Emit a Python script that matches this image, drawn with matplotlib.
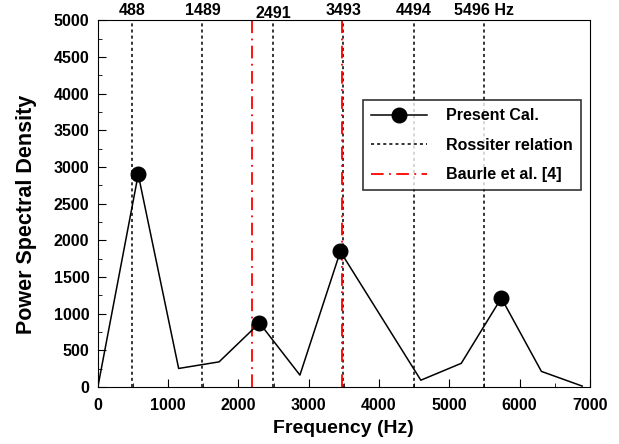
import numpy as np
import matplotlib.pyplot as plt

plt.rcParams['font.family'] = ['Liberation Sans', 'DejaVu Sans']
plt.rcParams['font.weight'] = 'bold'

freq = [0, 575, 1150, 1725, 2300, 2875, 3450, 4595, 5170, 5740, 6310, 6890]
psd = [0, 2900, 255, 345, 875, 165, 1850, 95, 325, 1215, 215, 15]
peak_freq = [575, 2300, 3450, 5740]
peak_psd = [2900, 875, 1850, 1215]
rossiter = [488, 1489, 2491, 3493, 4494, 5496]
rossiter_labels = ['488', '1489', '2491', '3493', '4494', '5496 Hz']
baurle = [2200, 3470]

fig = plt.figure(figsize=(6.19, 4.44), dpi=100)
ax = fig.add_axes([0.158, 0.128, 0.795, 0.826])

for i, f in enumerate(rossiter):
    ax.axvline(f, color='black', linestyle=(0, (2, 2)), linewidth=1.1,
               label='Rossiter relation' if i == 0 else None)
for i, f in enumerate(baurle):
    ax.axvline(f, color='red', linestyle=(0, (7, 3, 1, 3)), linewidth=1.3,
               label='Baurle et al. [4]' if i == 0 else None)

ax.plot(freq, psd, color='black', linewidth=1.1)
ax.plot(peak_freq, peak_psd, 'o', color='black', markersize=10.5)
ax.plot([], [], '-o', color='black', markersize=10.5, linewidth=1.1,
        label='Present Cal.')

for f, lab in zip(rossiter, rossiter_labels):
    dy = 0.998 if lab == '2491' else 1.007
    ax.text(f, 5000 * dy, lab, ha='center', va='bottom', fontsize=11.5,
            fontweight='bold')

ax.set_xlim(0, 7000)
ax.set_ylim(0, 5000)
ax.set_xticks(np.arange(0, 7001, 1000))
ax.set_xticks(np.arange(0, 7001, 500), minor=True)
ax.set_yticks(np.arange(0, 5001, 500))
ax.set_yticks(np.arange(0, 5001, 250), minor=True)
ax.tick_params(which='both', direction='in', top=False, right=False,
               labelsize=11.5)
ax.tick_params(which='major', length=6)
ax.tick_params(which='minor', length=3)
ax.tick_params(axis='x', pad=8)
ax.tick_params(axis='y', pad=6)
for lbl in ax.get_xticklabels() + ax.get_yticklabels():
    lbl.set_fontweight('bold')

ax.set_xlabel('Frequency (Hz)', fontsize=14, fontweight='bold')
ax.set_ylabel('Power Spectral Density', fontsize=15.5, fontweight='bold')
ax.xaxis.set_label_coords(0.5, -0.09)
ax.yaxis.set_label_coords(-0.123, 0.47)

handles, labels = ax.get_legend_handles_labels()
order = [labels.index('Present Cal.'), labels.index('Rossiter relation'),
         labels.index('Baurle et al. [4]')]
leg = ax.legend([handles[i] for i in order], [labels[i] for i in order],
                loc='upper left', bbox_to_anchor=(0.539, 0.782),
                frameon=True, fancybox=False, edgecolor='black',
                handlelength=3.5, fontsize=11.5, labelspacing=0.9,
                borderpad=0.5, handletextpad=1.2, borderaxespad=0)
leg.get_frame().set_linewidth(1.2)
for t in leg.get_texts():
    t.set_fontweight('bold')

fig.savefig('out.png', dpi=100)
